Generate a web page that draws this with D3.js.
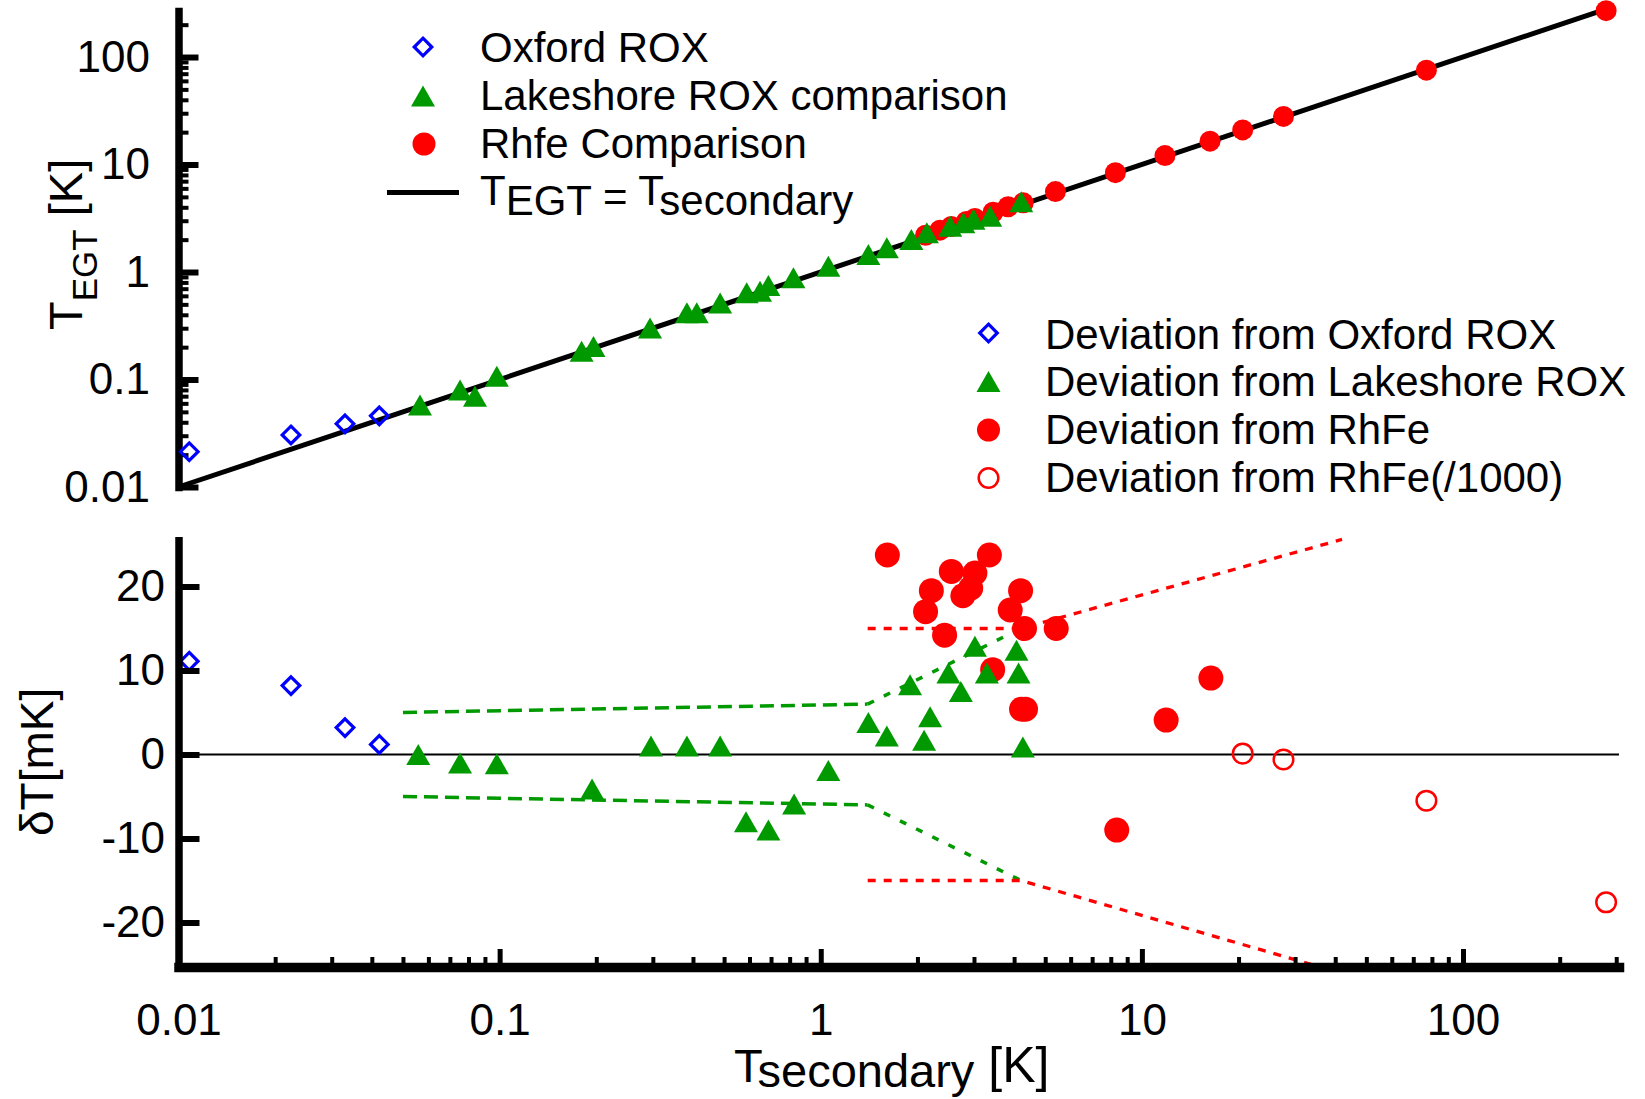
<!DOCTYPE html>
<html>
<head>
<meta charset="utf-8">
<style>
body { margin: 0; background: #fff; }
svg { display: block; font-family: "Liberation Sans", Arial, sans-serif; }
.axis text { font-size: 44px; fill: #000; }
.axis .domain { stroke: #000; stroke-width: 7.5; stroke-linecap: square; }
.axis .tick line { stroke: #000; stroke-width: 6; }
.xaxis .domain { stroke-width: 9.5; }
.xaxis .tick line { stroke-width: 5; }
.minor .tick line { stroke-width: 4; }
.minor .domain { display: none; }
.leg { font-size: 42px; fill: #000; }
</style>
</head>
<body>
<svg width="1645" height="1099"></svg>
<script src="https://d3js.org/d3.v7.min.js"></script>
<script>
// ---- values ----
// top panel: T_EGT vs T_secondary
var oxfordT   = [0.0108, 0.0224, 0.0330, 0.0422];
var oxfordEGT = [0.0213, 0.0305, 0.0387, 0.0459];
var lakeTopT   = [0.0565, 0.0753, 0.0838, 0.098, 0.180, 0.196, 0.294, 0.383, 0.411, 0.486, 0.588, 0.647, 0.687, 0.822, 1.056, 1.407, 1.606, 1.915, 2.14, 2.53, 2.78, 2.99, 3.37, 4.21];
var lakeTopEGT = [0.058, 0.080, 0.070, 0.107, 0.183, 0.203, 0.302, 0.417, 0.417, 0.516, 0.640, 0.662, 0.748, 0.883, 1.13, 1.455, 1.68, 2.01, 2.32, 2.67, 2.88, 3.09, 3.31, 4.5];
var rhTopT   = [2.12, 2.35, 2.55, 2.84, 3.02, 3.44, 3.83, 4.27, 5.38, 8.27, 11.8, 16.3, 20.6, 27.6, 76.9, 279];
var rhTopEGT = [2.2, 2.45, 2.65, 2.95, 3.15, 3.6, 4.05, 4.4, 5.6, 8.4, 12.1, 16.5, 21.0, 28.0, 75.5, 270];
var identityT = [0.01, 279];

// bottom panel: deviation in mK
var oxfordDev = [11.1, 8.2, 3.2, 1.2];
var lakeT   = [0.0558, 0.0753, 0.098, 0.194, 0.296, 0.383, 0.486, 0.585, 0.687, 0.826, 1.056, 1.407, 1.606, 1.897, 2.098, 2.19, 2.497, 2.73, 3.02, 3.29, 4.07, 4.13, 4.26];
var lakeDev = [0.0, -1.0, -1.1, -4.1, 1.0, 1.0, 1.0, -8.0, -9.0, -5.9, -1.9, 3.8, 2.2, 8.3, 1.7, 4.5, 9.7, 7.5, 12.9, 9.7, 12.4, 9.7, 0.9];
var rhT   = [1.612, 2.12, 2.21, 2.43, 2.55, 2.77, 2.93, 3.02, 3.35, 3.43, 3.89, 4.19, 4.22, 4.31, 4.34, 5.41, 8.35, 11.9, 16.4];
var rhDev = [23.75, 17.0, 19.5, 14.2, 21.8, 18.9, 19.8, 21.6, 23.75, 10.1, 17.2, 19.5, 5.4, 15.0, 5.4, 15.0, -9.0, 4.1, 9.1];
var rhOpenT   = [20.6, 27.6, 76.9, 279];
var rhOpenDev = [0.1, -0.6, -5.5, -17.6];

// uncertainty bands (dashed)
var lakeBandT  = [0.05, 1.4, 4.2];
var lakeBandHi = [5.0, 6.0, 15.0];
var lakeBandLo = [-5.0, -6.0, -15.0];
var rhBandHiT = [1.4, 4.2, 42];
var rhBandHi  = [15.0, 15.0, 25.6];
var rhBandLoT = [1.4, 4.2, 36];
var rhBandLo  = [-15.0, -15.0, -25.3];

// ticks
var logTicks  = [0.01, 0.1, 1, 10, 100];
var logLabels = ["0.01", "0.1", "1", "10", "100"];
var devTicks  = [-20, -10, 0, 10, 20];
var devLabels = ["-20", "-10", "0", "10", "20"];

function zip(a, b) { return a.map(function(v, i) { return [v, b[i]]; }); }

var svg = d3.select("svg");

var x = d3.scaleLog().domain([0.01, 306]).range([178.5, 1619]);
var yTop = d3.scaleLog().domain([0.01, 268]).range([487, 11]);
var yBot = d3.scaleLinear().domain([-25.3, 25.5]).range([967, 540.3]);

function minorsUpTo(max) {
  var out = [];
  [0.01, 0.1, 1, 10, 100].forEach(function(p) {
    for (var k = 2; k <= 9; k++) if (p * k <= max) out.push(p * k);
  });
  return out;
}

// marker shapes
var diamond = "M0,-8.8L8.8,0L0,8.8L-8.8,0Z";
var triangle = "M0,-10.5L12,10.5L-12,10.5Z";

// ---------------- top panel ----------------
svg.append("g").attr("class", "axis minor")
    .attr("transform", "translate(" + x(0.01) + ",0)")
    .call(d3.axisLeft(yTop).tickValues(minorsUpTo(268)).tickFormat("").tickSizeInner(-10).tickSizeOuter(0));

svg.append("g").attr("class", "axis")
    .attr("transform", "translate(" + x(0.01) + ",0)")
    .call(d3.axisLeft(yTop).tickValues(logTicks)
      .tickFormat(function(d, i) { return logLabels[i]; })
      .tickSizeInner(-20).tickSizeOuter(0).tickPadding(28.5));

svg.append("path")
    .datum(identityT)
    .attr("fill", "none").attr("stroke", "#000").attr("stroke-width", 5)
    .attr("d", d3.line().x(function(d) { return x(d); }).y(function(d) { return yTop(d); }));

svg.append("g").selectAll("circle").data(zip(rhTopT, rhTopEGT)).enter().append("circle")
    .attr("cx", function(d) { return x(d[0]); })
    .attr("cy", function(d) { return yTop(d[1]); })
    .attr("r", 10.5).attr("fill", "#ff0000");

svg.append("g").selectAll("path").data(zip(lakeTopT, lakeTopEGT)).enter().append("path")
    .attr("d", triangle).attr("fill", "#009a00")
    .attr("transform", function(d) { return "translate(" + x(d[0]) + "," + yTop(d[1]) + ")"; });

svg.append("g").selectAll("path").data(zip(oxfordT, oxfordEGT)).enter().append("path")
    .attr("d", diamond).attr("fill", "none").attr("stroke", "#0000ff").attr("stroke-width", 3.2)
    .attr("transform", function(d) { return "translate(" + x(d[0]) + "," + yTop(d[1]) + ")"; });

// y title top
svg.append("text")
    .attr("transform", "translate(82,330) rotate(-90)")
    .attr("font-size", 47)
    .html('T<tspan font-size="35" dy="15">EGT</tspan><tspan dy="-15"> [K]</tspan>');

// legend top
var leg1 = svg.append("g");
leg1.append("path").attr("d", diamond).attr("fill", "none").attr("stroke", "#0000ff").attr("stroke-width", 3.2)
    .attr("transform", "translate(423,47)");
leg1.append("path").attr("d", triangle).attr("fill", "#009a00").attr("transform", "translate(423,96)");
leg1.append("circle").attr("cx", 424).attr("cy", 144).attr("r", 11.5).attr("fill", "#ff0000");
leg1.append("line").attr("x1", 387).attr("x2", 459).attr("y1", 192.5).attr("y2", 192.5)
    .attr("stroke", "#000").attr("stroke-width", 5);
leg1.append("text").attr("class", "leg").attr("x", 480).attr("y", 62).text("Oxford ROX");
leg1.append("text").attr("class", "leg").attr("x", 480).attr("y", 110).text("Lakeshore ROX comparison");
leg1.append("text").attr("class", "leg").attr("x", 480).attr("y", 158).text("Rhfe Comparison");
leg1.append("text").attr("class", "leg").attr("x", 480).attr("y", 205)
    .html('T<tspan dy="10">EGT</tspan><tspan dy="-4"> = </tspan><tspan dy="-6">T</tspan><tspan dy="10">secondary</tspan>');

// ---------------- bottom panel ----------------
svg.append("line")
    .attr("x1", x(0.01)).attr("x2", x(306))
    .attr("y1", yBot(0)).attr("y2", yBot(0))
    .attr("stroke", "#000").attr("stroke-width", 2);

var devLine = d3.line().x(function(d) { return x(d[0]); }).y(function(d) { return yBot(d[1]); });

[lakeBandHi, lakeBandLo].forEach(function(band) {
  var pts = zip(lakeBandT, band);
  for (var i = 0; i < pts.length - 1; i++) {
    svg.append("path").datum([pts[i], pts[i + 1]])
      .attr("fill", "none").attr("stroke", "#009a00").attr("stroke-width", 3.5)
      .attr("stroke-dasharray", i === 0 ? "14,7" : "7,11")
      .attr("d", devLine);
  }
});
[[rhBandHiT, rhBandHi], [rhBandLoT, rhBandLo]].forEach(function(b) {
  svg.append("path").datum(zip(b[0], b[1]))
    .attr("fill", "none").attr("stroke", "#ff0000").attr("stroke-width", 3.3)
    .attr("stroke-dasharray", "8,8")
    .attr("d", devLine);
});

svg.append("g").selectAll("circle").data(zip(rhT, rhDev)).enter().append("circle")
    .attr("cx", function(d) { return x(d[0]); })
    .attr("cy", function(d) { return yBot(d[1]); })
    .attr("r", 12.5).attr("fill", "#ff0000");

svg.append("g").selectAll("circle").data(zip(rhOpenT, rhOpenDev)).enter().append("circle")
    .attr("cx", function(d) { return x(d[0]); })
    .attr("cy", function(d) { return yBot(d[1]); })
    .attr("r", 9.8).attr("fill", "none").attr("stroke", "#ff0000").attr("stroke-width", 2.5);

svg.append("g").selectAll("path").data(zip(lakeT, lakeDev)).enter().append("path")
    .attr("d", triangle).attr("fill", "#009a00")
    .attr("transform", function(d) { return "translate(" + x(d[0]) + "," + yBot(d[1]) + ")"; });

svg.append("g").selectAll("path").data(zip(oxfordT, oxfordDev)).enter().append("path")
    .attr("d", diamond).attr("fill", "none").attr("stroke", "#0000ff").attr("stroke-width", 3.2)
    .attr("transform", function(d) { return "translate(" + x(d[0]) + "," + yBot(d[1]) + ")"; });

// axes bottom
svg.append("g").attr("class", "axis")
    .attr("transform", "translate(" + x(0.01) + ",0)")
    .call(d3.axisLeft(yBot).tickValues(devTicks)
      .tickFormat(function(d, i) { return devLabels[i]; })
      .tickSizeInner(-21).tickSizeOuter(0).tickPadding(13.5));

svg.append("g").attr("class", "axis xaxis minor")
    .attr("transform", "translate(0," + yBot(-25.3) + ")")
    .call(d3.axisBottom(x).tickValues(minorsUpTo(306)).tickFormat("").tickSizeInner(-10).tickSizeOuter(0));

svg.append("g").attr("class", "axis xaxis")
    .attr("transform", "translate(0," + yBot(-25.3) + ")")
    .call(d3.axisBottom(x).tickValues(logTicks)
      .tickFormat(function(d, i) { return logLabels[i]; })
      .tickSizeInner(-18).tickSizeOuter(0).tickPadding(37));

// axis titles bottom
svg.append("text")
    .attr("transform", "translate(53,836) rotate(-90)")
    .attr("font-size", 46)
    .text("\u03b4T[mK]");

svg.append("text")
    .attr("x", 734).attr("y", 1081.5)
    .attr("font-size", 47)
    .html('T<tspan dy="5.5">secondary</tspan><tspan dy="-5.5" font-size="50"> [K]</tspan>');

// legend bottom
var leg2 = svg.append("g");
leg2.append("path").attr("d", diamond).attr("fill", "none").attr("stroke", "#0000ff").attr("stroke-width", 3.2)
    .attr("transform", "translate(988.5,333)");
leg2.append("path").attr("d", triangle).attr("fill", "#009a00").attr("transform", "translate(988.5,381.5)");
leg2.append("circle").attr("cx", 988.5).attr("cy", 430).attr("r", 11.5).attr("fill", "#ff0000");
leg2.append("circle").attr("cx", 988.5).attr("cy", 478).attr("r", 9.8)
    .attr("fill", "none").attr("stroke", "#ff0000").attr("stroke-width", 2.5);
var leg2Labels = ["Deviation from Oxford ROX", "Deviation from Lakeshore ROX", "Deviation from RhFe", "Deviation from RhFe(/1000)"];
leg2.selectAll("text").data(leg2Labels).enter().append("text")
    .attr("class", "leg").attr("x", 1045)
    .attr("y", function(d, i) { return 348.5 + i * 47.8; })
    .text(function(d) { return d; });
</script>
</body>
</html>
